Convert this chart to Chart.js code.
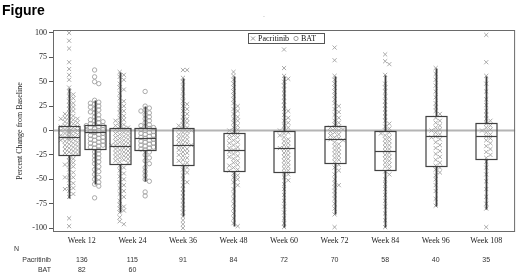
<!DOCTYPE html>
<html><head><meta charset="utf-8">
<script src="https://cdn.jsdelivr.net/npm/chart.js@4.4.1/dist/chart.umd.min.js"></script>
<style>html,body{margin:0;padding:0;background:#fff;}#wrap{width:520px;height:274px;}</style>
</head><body><div id="wrap"><canvas id="c" width="520" height="274"></canvas></div>
<script>
const weeks = ['Week 12','Week 24','Week 36','Week 48','Week 60','Week 72','Week 84','Week 96','Week 108'];
const yTicks = [-100,-75,-50,-25,0,25,50,75,100];
const nPacritinib = [136,115,91,84,72,70,58,40,35];
const nBAT = [82,60];

// box statistics per week: lower whisker, Q1, median, Q3, upper whisker
const pacLow = [-69,-84,-88,-98,-99,-86,-99,-77,-80];
const pacQ1  = [-25,-34,-35,-42,-43,-33,-40,-36,-29];
const pacMed = [-6.5,-15.5,-15,-20,-18,-9,-21,-6,-6];
const pacQ3  = [5,3,3,-2.5,-1,4.5,-1,14.5,8];
const pacHigh= [44,60,54,56,56,56,57,64,56];
const batLow = [-55,-52];
const batQ1  = [-18.5,-20];
const batMed = [-1.5,-8];
const batQ3  = [6,3];
const batHigh= [31,25];

// individual values
const pacW12 = [100,92,84,70,63,57,52,44,40,37,35,33,30,28,26,24,22,20,18,17,15,14,13,12,12,11,10,9,8,7,6,5,4,4,3,2,2,1,0,0,0,-1,-1,-2,-3,-3,-4,-5,-5,-6,-6,-7,-8,-8,-9,-10,-10,-11,-12,-13,-14,-15,-16,-17,-18,-19,-20,-21,-22,-23,-24,-25,-27,-29,-31,-33,-35,-35,-37,-40,-43,-46,-48,-48,-51,-54,-57,-59,-60,-62,-65,-68,-90,-98];
const pacW24 = [60,57,55,52,48,44,42,38,33,30,27,25,22,20,18,15,13,11,10,8,6,5,4,3,2,1,0,-1,-2,-3,-4,-5,-6,-7,-8,-9,-10,-11,-12,-13,-14,-15,-15,-16,-17,-18,-19,-20,-21,-22,-23,-24,-25,-26,-27,-28,-29,-30,-31,-32,-33,-36,-38,-41,-44,-47,-50,-53,-56,-59,-62,-65,-68,-72,-76,-78,-80,-82,-84,-89,-93,-96];
const pacW36 = [62,62,54,50,45,40,35,30,27,25,22,20,17,14,12,10,8,6,5,3,2,1,0,-1,-2,-4,-5,-6,-8,-9,-10,-12,-13,-14,-15,-16,-18,-19,-20,-22,-23,-25,-26,-28,-30,-31,-33,-35,-38,-40,-43,-46,-50,-53,-56,-60,-64,-68,-72,-76,-80,-84,-88,-92,-96,-100];
const pacW48 = [60,56,52,48,44,40,36,32,28,25,22,20,17,14,12,10,8,5,3,1,0,-1,-3,-4,-5,-7,-8,-10,-12,-13,-15,-17,-18,-20,-21,-22,-24,-26,-27,-29,-31,-33,-35,-36,-38,-40,-41,-44,-46,-48,-50,-53,-56,-60,-65,-70,-75,-80,-85,-90,-95,-98];
const pacW60 = [83,64,56,53,50,46,42,38,34,30,26,22,20,16,13,10,8,5,3,1,0,-2,-3,-5,-7,-9,-11,-13,-15,-17,-18,-19,-21,-23,-25,-27,-29,-31,-33,-35,-37,-39,-41,-43,-45,-48,-51,-55,-60,-66,-72,-78,-84,-90,-95,-99];
const pacW72 = [85,72,56,52,48,44,40,36,32,28,25,22,19,16,13,10,8,6,4,3,2,1,0,-1,-2,-4,-5,-7,-8,-9,-10,-12,-14,-16,-18,-20,-22,-24,-26,-28,-30,-32,-35,-38,-41,-45,-50,-54,-56,-58,-62,-66,-70,-75,-80,-86,-99];
const pacW84 = [78,71,68,57,48,44,40,35,30,26,22,18,14,10,7,4,2,0,-2,-3,-5,-7,-9,-11,-13,-15,-17,-19,-21,-23,-25,-27,-29,-31,-33,-35,-37,-39,-42,-45,-50,-55,-60,-66,-72,-78,-85,-92,-99];
const pacW96 = [64,58,52,46,40,34,28,24,20,17,13,10,8,5,3,1,0,-2,-4,-6,-7,-9,-12,-15,-18,-21,-24,-27,-30,-33,-36,-38,-40,-43,-46,-50,-56,-62,-70,-77];
const pacW108 = [98,70,56,48,40,32,26,20,16,12,10,7,5,3,1,0,-2,-4,-6,-8,-10,-13,-16,-19,-22,-25,-28,-32,-38,-45,-52,-60,-68,-75,-80,-99];
const batW12 = [62,55,50,48,31,29,28,27,25,24,22,21,19,18,16,14,12,11,10,9,8,7,6,5,5,4,3,2,2,1,0,0,-1,-1,-2,-2,-3,-4,-5,-6,-7,-8,-9,-10,-11,-12,-13,-14,-15,-16,-17,-18,-20,-22,-24,-26,-28,-30,-32,-34,-37,-40,-42,-45,-48,-50,-53,-55,-57,-69];
const batW24 = [40,25,23,21,20,18,16,14,12,10,8,6,5,4,3,2,1,0,-1,-2,-3,-4,-5,-6,-7,-8,-9,-10,-11,-12,-13,-14,-15,-16,-17,-18,-19,-20,-22,-25,-28,-31,-34,-38,-42,-46,-50,-52,-63,-67];

const pacPoints = [pacW12,pacW24,pacW36,pacW48,pacW60,pacW72,pacW84,pacW96,pacW108];
const batPoints = [batW12,batW24];

// layout helpers (not data)
const X_MIN = -0.571, X_MAX = 8.571, Y_MIN = -104, Y_MAX = 103;
const PX_X = 464 / (X_MAX - X_MIN), PX_Y = 202 / (Y_MAX - Y_MIN);
const BOX_HALF = 0.207, GROUP_SHIFT = 0.252;
const pacPos = i => i + (i < batPoints.length ? -GROUP_SHIFT : 0);
const batPos = i => i + GROUP_SHIFT;

function swarm(values, center){
  const step = 4.2, minDy = 3.3, minDx = 4, maxK = 2;
  const placed = [], out = [];
  const sorted = values.slice().sort((a,b)=>b-a);
  for (const v of sorted){
    const dy = v * PX_Y;
    let chosen = null;
    for (let k = 0; k <= maxK*2; k++){
      const off = k === 0 ? 0 : (k % 2 ? 1 : -1) * Math.ceil(k/2) * step;
      const ok = placed.every(p => Math.abs(p.dy - dy) >= minDy || Math.abs(p.dx - off) >= minDx);
      if (ok){ chosen = off; break; }
    }
    if (chosen === null) chosen = 0;
    placed.push({dx: chosen, dy});
    out.push({x: center + chosen / PX_X, y: v});
  }
  return out;
}

const pacData = [].concat(...pacPoints.map((vals,i)=>swarm(vals, pacPos(i))));
const batData = [].concat(...batPoints.map((vals,i)=>swarm(vals, batPos(i))));

const SERIF = '"Liberation Serif","Times New Roman",serif';
const SANS = '"Liberation Sans",Arial,sans-serif';

const boxPlugin = {
  id: 'boxes',
  beforeDatasetsDraw(chart){
    const {ctx, chartArea: a, scales: {y}} = chart;
    const y0 = y.getPixelForValue(0);
    ctx.save();
    ctx.strokeStyle = '#b4b4b4'; ctx.lineWidth = 2;
    ctx.beginPath(); ctx.moveTo(a.left, y0); ctx.lineTo(a.right, y0); ctx.stroke();
    ctx.restore();
  },
  afterDatasetsDraw(chart){
    const {ctx, chartArea: a, scales: {x, y}} = chart;
    const drawBox = (pos, lo, q1, med, q3, hi) => {
      const cx = Math.round(x.getPixelForValue(pos)) + 0.5;
      const hw = x.getPixelForValue(pos + BOX_HALF) - x.getPixelForValue(pos);
      const Y = v => Math.round(y.getPixelForValue(v)) + 0.5;
      ctx.strokeStyle = '#404040';
      ctx.lineWidth = 1.8;
      ctx.beginPath();
      ctx.moveTo(cx, Y(hi)); ctx.lineTo(cx, Y(q3));
      ctx.moveTo(cx, Y(q1)); ctx.lineTo(cx, Y(lo));
      ctx.stroke();
      ctx.lineWidth = 1.2;
      ctx.strokeRect(Math.round(cx - hw), Y(q3), Math.round(2*hw), Y(q1) - Y(q3));
      ctx.beginPath(); ctx.moveTo(Math.round(cx - hw), Y(med)); ctx.lineTo(Math.round(cx + hw), Y(med)); ctx.stroke();
    };
    ctx.save();
    weeks.forEach((w,i)=>drawBox(pacPos(i), pacLow[i], pacQ1[i], pacMed[i], pacQ3[i], pacHigh[i]));
    batPoints.forEach((_,i)=>drawBox(batPos(i), batLow[i], batQ1[i], batMed[i], batQ3[i], batHigh[i]));
    // frame
    ctx.strokeStyle = '#6a6a6a'; ctx.lineWidth = 1;
    ctx.strokeRect(a.left + 0.5, a.top + 0.5, a.right - a.left - 1, a.bottom - a.top - 1);
    // legend
    const lx = 248, ly = 33, lw = 76, lh = 10;
    ctx.fillStyle = '#fff'; ctx.fillRect(lx, ly, lw, lh);
    ctx.strokeStyle = '#555'; ctx.strokeRect(lx + 0.5, ly + 0.5, lw, lh);
    ctx.strokeStyle = '#9a9a9a'; ctx.lineWidth = 1;
    const mx = 253, my = ly + 5.5, r = 2;
    ctx.beginPath(); ctx.moveTo(mx - r, my - r); ctx.lineTo(mx + r, my + r); ctx.moveTo(mx - r, my + r); ctx.lineTo(mx + r, my - r); ctx.stroke();
    ctx.beginPath(); ctx.arc(296, my, 2.1, 0, Math.PI*2); ctx.stroke();
    ctx.fillStyle = '#111'; ctx.font = '8px ' + SERIF; ctx.textBaseline = 'middle'; ctx.textAlign = 'left';
    ctx.fillText('Pacritinib', 258, my);
    ctx.fillText('BAT', 301, my);
    ctx.restore();
  },
  afterDraw(chart){
    const {ctx, scales: {x}} = chart;
    ctx.save();
    ctx.fillStyle = '#000'; ctx.font = 'bold 14px ' + SANS; ctx.textBaseline = 'alphabetic'; ctx.textAlign = 'left';
    ctx.fillText('Figure', 2, 15);
    ctx.fillStyle = '#999'; ctx.font = '7px ' + SANS; ctx.fillText('.', 263, 17);
    ctx.fillStyle = '#333'; ctx.font = '7px ' + SANS; ctx.textBaseline = 'middle';
    ctx.fillText('N', 14, 249);
    ctx.textAlign = 'right';
    ctx.fillText('Pacritinib', 51, 260);
    ctx.fillText('BAT', 51, 270);
    ctx.textAlign = 'center';
    nPacritinib.forEach((n,i)=>ctx.fillText(String(n), x.getPixelForValue(i), 260));
    nBAT.forEach((n,i)=>ctx.fillText(String(n), x.getPixelForValue(i), 270));
    ctx.restore();
  }
};

new Chart(document.getElementById('c'), {
  type: 'scatter',
  data: {
    datasets: [
      {label: 'Pacritinib', data: pacData, pointStyle: 'crossRot', pointRadius: 2.9, borderColor: '#a0a0a0', backgroundColor: 'rgba(0,0,0,0)', borderWidth: 0.9},
      {label: 'BAT', data: batData, pointStyle: 'circle', pointRadius: 2.2, borderColor: '#a0a0a0', backgroundColor: 'rgba(0,0,0,0)', borderWidth: 0.9}
    ]
  },
  options: {
    responsive: false, animation: false,
    layout: {padding: {left: 0, right: 3, top: 30, bottom: 0}},
    plugins: {legend: {display: false}, tooltip: {enabled: false}},
    scales: {
      x: {
        type: 'linear', min: X_MIN, max: X_MAX,
        afterFit: s => { s.height = 42; },
        afterBuildTicks: s => { s.ticks = weeks.map((_,i)=>({value: i})); },
        grid: {display: false, drawTicks: false}, border: {display: false},
        ticks: {callback: v => weeks[v], font: {family: SERIF, size: 8}, color: '#222', padding: 4, maxRotation: 0, autoSkip: false}
      },
      y: {
        min: Y_MIN, max: Y_MAX,
        afterFit: s => { s.width = 53; },
        afterBuildTicks: s => { s.ticks = yTicks.map(v=>({value: v})); },
        grid: {drawOnChartArea: false, drawTicks: true, tickLength: 4, color: '#555'},
        border: {display: false},
        ticks: {callback: v => String(v), font: {family: SERIF, size: 8}, color: '#222', padding: 2},
        title: {display: true, text: 'Percent Change from Baseline', font: {family: SERIF, size: 8}, color: '#222', padding: {top: 15, bottom: 0}}
      }
    }
  },
  plugins: [boxPlugin]
});
</script>
</body></html>
